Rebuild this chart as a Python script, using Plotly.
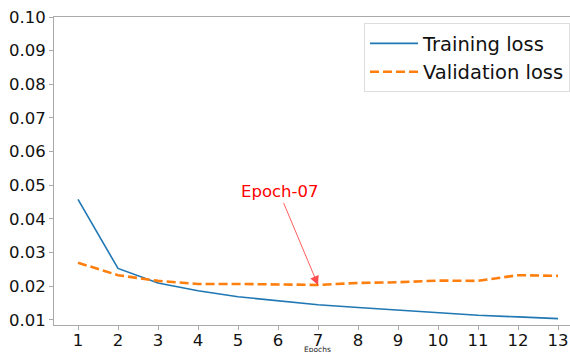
import plotly.graph_objects as go

epochs = list(range(1, 14))
training_loss = [0.0458, 0.0253, 0.0210, 0.0187, 0.0169, 0.0156, 0.0145,
                 0.0137, 0.0129, 0.0121, 0.0114, 0.0109, 0.0104]
validation_loss = [0.0270, 0.0233, 0.0216, 0.0207, 0.0207, 0.0206, 0.0204,
                   0.0210, 0.0212, 0.0217, 0.0216, 0.0233, 0.0231]
y_ticks = [0.01, 0.02, 0.03, 0.04, 0.05, 0.06, 0.07, 0.08, 0.09, 0.10]
best_epoch = 7
best_label = "Epoch-07"

FONT = "DejaVu Sans"
AXIS_GREY = "#aaaaaa"

fig = go.Figure()
fig.add_trace(go.Scatter(x=epochs, y=training_loss, mode="lines", name="Training loss",
                         line=dict(color="#1f77b4", width=1.6)))
fig.add_trace(go.Scatter(x=epochs, y=validation_loss, mode="lines", name="Validation loss",
                         line=dict(color="#ff7f0e", width=2.6, dash="9px,4px")))

fig.add_annotation(x=best_epoch, y=validation_loss[best_epoch - 1], xref="x", yref="y",
                   text=best_label, showarrow=True, ax=-39, ay=-93,
                   font=dict(family=FONT, size=16.5, color="#ff0000"),
                   arrowcolor="rgba(255,0,0,0.7)", arrowwidth=0.9, arrowhead=2, arrowsize=2.0)

fig.add_annotation(x=0.511, y=-0.079, xref="paper", yref="paper", text="Epochs",
                   showarrow=False, font=dict(family=FONT, size=7.5, color="#222222"),
                   xanchor="center", yanchor="middle")

fig.update_layout(
    width=570, height=352,
    margin=dict(l=54, r=0, t=17, b=27),
    paper_bgcolor="white", plot_bgcolor="white",
    font=dict(family=FONT, color="#111111"),
    showlegend=True,
    legend=dict(x=1.0, y=0.98, xanchor="right", yanchor="top",
                font=dict(family=FONT, size=19.5, color="#111111"),
                bordercolor="#dddddd", borderwidth=1, bgcolor="rgba(255,255,255,0.8)",
                tracegroupgap=0, itemwidth=48),
)
fig.update_xaxes(range=[0.4, 13.3], tickmode="array", tickvals=epochs,
                 ticktext=[str(e) for e in epochs], automargin=False,
                 showgrid=False, zeroline=False, showline=True, linecolor=AXIS_GREY,
                 linewidth=1, mirror=True, ticks="outside", ticklen=4, tickcolor=AXIS_GREY,
                 ticklabelstandoff=-4,
                 tickfont=dict(family=FONT, size=16.5, color="#111111"))
fig.update_yaxes(range=[0.0085, 0.10], tickmode="array", tickvals=y_ticks,
                 ticktext=[f"{v:.2f}" for v in y_ticks], automargin=False,
                 showgrid=False, zeroline=False, showline=True, linecolor=AXIS_GREY,
                 linewidth=1, mirror=False, ticks="outside", ticklen=4, tickcolor=AXIS_GREY,
                 tickfont=dict(family=FONT, size=16.5, color="#111111"))

fig.write_html("out.html")
